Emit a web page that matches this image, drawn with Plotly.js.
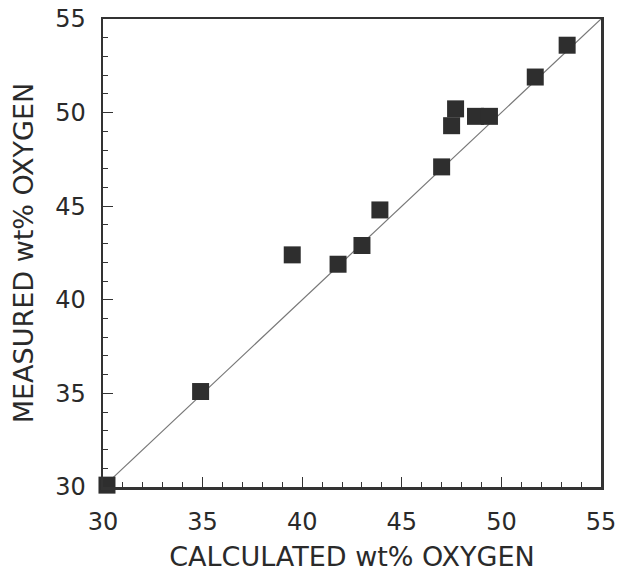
<!DOCTYPE html>
<html>
<head>
<meta charset="utf-8">
<script src="https://cdn.plot.ly/plotly-3.0.1.min.js"></script>
<style>html,body{margin:0;padding:0;background:#fff;}#chart{width:617px;height:572px;}</style>
</head>
<body>
<div id="chart"></div>
<script>
const calculated = [30.2, 34.9, 39.5, 41.8, 43.0, 43.9, 47.0, 47.5, 47.7, 48.7, 49.4, 51.7, 53.3];
const measured   = [30.1, 35.1, 42.4, 41.9, 42.9, 44.8, 47.1, 49.3, 50.2, 49.8, 49.8, 51.9, 53.6];
const lineX = [30, 55];
const lineY = [30, 55];
const tickVals = [30, 35, 40, 45, 50, 55];

const FONT = 'DejaVu Sans, Liberation Sans, Arial, sans-serif';

const axisCommon = {
  range: [30, 55],
  tickvals: tickVals,
  ticktext: tickVals.map(String),
  ticks: 'inside',
  ticklen: 10,
  tickwidth: 1.2,
  tickcolor: '#333',
  showline: true,
  linecolor: '#333',
  linewidth: 2.5,
  mirror: true,
  showgrid: false,
  zeroline: false,
  tickfont: {family: FONT, size: 24, color: '#2a2a2a'},
  minor: {dtick: 1, ticks: 'inside', ticklen: 5, tickwidth: 1, tickcolor: '#333', showgrid: false}
};

const data = [
  {x: lineX, y: lineY, mode: 'lines', line: {color: '#777', width: 1.2}, hoverinfo: 'skip', showlegend: false},
  {x: calculated, y: measured, mode: 'markers', type: 'scatter', showlegend: false,
   marker: {symbol: 'square', size: 17, color: '#2e2e2e', line: {width: 0}}, cliponaxis: false}
];

const layout = {
  width: 617, height: 572,
  margin: {l: 103, r: 16, t: 19, b: 85},
  paper_bgcolor: '#fff', plot_bgcolor: '#fff',
  showlegend: false,
  xaxis: Object.assign({}, axisCommon, {
    ticklabelstandoff: 12,
    title: {text: 'CALCULATED wt% OXYGEN', standoff: 14, font: {family: FONT, size: 27, color: '#2a2a2a'}}
  }),
  yaxis: Object.assign({}, axisCommon, {
    ticklabelstandoff: 10,
    title: {text: 'MEASURED wt% OXYGEN', standoff: 14, font: {family: FONT, size: 27, color: '#2a2a2a'}}
  })
};

Plotly.newPlot('chart', data, layout, {displayModeBar: false, staticPlot: true});
</script>
</body>
</html>
